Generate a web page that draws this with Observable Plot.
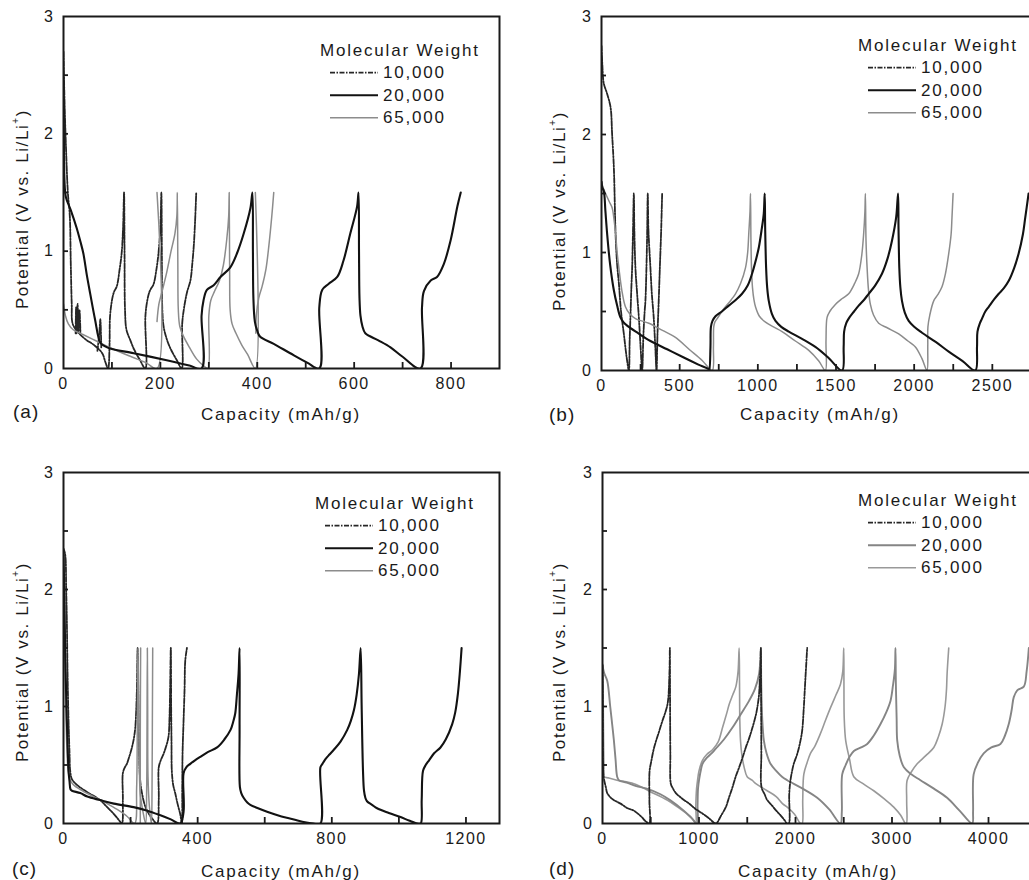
<!DOCTYPE html>
<html><head><meta charset="utf-8">
<script src="https://cdn.jsdelivr.net/npm/d3@7"></script>
<script src="https://cdn.jsdelivr.net/npm/@observablehq/plot@0.6"></script>
<style>
html,body{margin:0;padding:0;background:#fff;overflow:hidden;}
#root{position:relative;width:1029px;height:880px;overflow:hidden;background:#fff;}
.pan{position:absolute;}
.pan svg{max-width:none !important;}
#ov{position:absolute;left:0;top:0;pointer-events:none;}
</style></head><body><div id="root"></div><script>
// ---------- text ----------
const panelLetters = ["(a)", "(b)", "(c)", "(d)"];
const xTitle = "Capacity (mAh/g)";
const yTitleMain = "Potential (V vs. Li/Li";
const legendTitle = "Molecular Weight";
const legendLabels = ["10,000", "20,000", "65,000"];

// ---------- tick values ----------
const yTicks = [0, 1, 2, 3];
const yMinor = [0.5, 1, 1.5, 2, 2.5];
const aTicks = [0, 200, 400, 600, 800];
const aMinor = [100, 200, 300, 400, 500, 600, 700, 800];
const bTicks = [0, 500, 1000, 1500, 2000, 2500];
const bMinor = [250, 500, 750, 1000, 1250, 1500, 1750, 2000, 2250, 2500, 2750];
const cTicks = [0, 400, 800, 1200];
const cMinor = [200, 400, 600, 800, 1000, 1200];
const dTicks = [0, 1000, 2000, 3000, 4000];
const dMinor = [500, 1000, 1500, 2000, 2500, 3000, 3500, 4000, 4500];

// ---------- data: [capacity mAh/g, potential V] ----------
// panel (a)
const a10 = [
 [[0,2.7],[2,2.3],[5,1.9],[9,1.5],[13,1.3],[15,0.9],[17,0.55],[19,0.38],[30,0.31],[45,0.25],[63,0.2],[80,0.13],[86,0.06],[92,0],
  [95,0.2],[96,0.44],[100,0.58],[104,0.65],[110,0.7],[116,0.85],[120,0.98],[123,1.2],[125,1.5],
  [126,1.0],[127,0.5],[130,0.33],[138,0.24],[146,0.16],[158,0.07],[169,0],
  [169,0.44],[173,0.58],[178,0.66],[186,0.72],[192,0.85],[196,0.98],[200,1.2],[202,1.5],
  [203,1.0],[204,0.5],[207,0.35],[214,0.24],[222,0.16],[234,0.07],[244,0],
  [245,0.38],[249,0.52],[255,0.65],[262,0.75],[266,0.9],[269,1.05],[272,1.29],[274,1.5]],
 [[25,0.3],[26,0.52],[27,0.3],[29,0.55],[31,0.32],[33,0.5],[35,0.3]],
 [[70,0.15],[74,0.3],[76,0.42],[78,0.18]]
];
const a20 = [
 [[0,2.3],[1,1.9],[2,1.6],[5,1.46],[15,1.35],[27,1.2],[35,1.08],[41,0.98],[48,0.8],[55,0.64],[65,0.42],[76,0.22],[85,0.19],[96,0.17],[145,0.13],[213,0.07],[260,0.025],[285,0],
  [285,0.45],[289,0.58],[296,0.67],[310,0.71],[324,0.78],[344,0.86],[358,0.98],[372,1.15],[386,1.37],[390,1.5],
  [391,1.0],[392,0.6],[395,0.4],[400,0.32],[406,0.27],[434,0.21],[468,0.13],[503,0.05],[528,0],
  [528,0.52],[534,0.67],[547,0.72],[565,0.78],[578,0.92],[592,1.15],[606,1.38],[609,1.5],
  [610,1.0],[611,0.6],[613,0.45],[617,0.36],[623,0.3],[650,0.24],[675,0.18],[700,0.1],[737,0],
  [740,0.52],[744,0.66],[758,0.75],[771,0.78],[785,0.89],[799,1.09],[813,1.38],[820,1.5]]
];
const a65 = [
 [[0,0.55],[4,0.45],[10,0.38],[20,0.33],[40,0.29],[70,0.23],[100,0.17],[140,0.1],[170,0.05],[193,0],[193,1.5]],
 [[193,0.4],[197,0.55],[203,0.65],[212,0.8],[222,1.0],[230,1.15],[234,1.3],[235,1.5],
  [236,0.9],[237,0.5],[240,0.36],[247,0.28],[260,0.18],[275,0.08],[290,0.02],[298,0],
  [300,0.45],[304,0.58],[312,0.66],[322,0.75],[330,0.88],[337,1.1],[341,1.3],[342,1.5],
  [343,0.8],[344,0.5],[348,0.38],[356,0.3],[368,0.2],[380,0.12],[396,0],[396,1.5]],
 [[397,0.3],[398,0.45],[403,0.6],[410,0.7],[418,0.85],[424,1.05],[430,1.3],[434,1.5]]
];
// panel (b)
const b10 = [
 [[0,2.75],[5,2.6],[15,2.43],[35,2.35],[58,2.23],[68,2.0],[79,1.72],[90,1.16],[100,0.9],[111,0.74],[125,0.5],[143,0.31],[160,0.12],[175,0],
  [180,0.25],[185,0.45],[191,0.7],[196,0.87],[201,1.15],[207,1.5],
  [210,1.2],[217,0.87],[228,0.65],[239,0.45],[250,0.2],[260,0],
  [268,0.3],[276,0.5],[281,0.59],[288,0.9],[292,1.16],[296,1.5],
  [300,1.2],[313,0.87],[322,0.65],[334,0.45],[344,0.2],[352,0],
  [358,0.3],[366,0.59],[374,0.9],[381,1.16],[388,1.5]]
];
const b20 = [
 [[0,1.6],[5,1.55],[15,1.52],[25,1.35],[36,1.16],[55,0.9],[79,0.68],[100,0.55],[121,0.45],[140,0.41],[164,0.38],[230,0.32],[313,0.25],[420,0.18],[526,0.11],[620,0.05],[686,0.01],[690,0],
  [697,0.2],[700,0.37],[710,0.42],[729,0.46],[770,0.5],[814,0.55],[860,0.6],[899,0.65],[935,0.72],[963,0.82],[990,0.95],[1006,1.04],[1025,1.2],[1038,1.33],[1044,1.5],
  [1047,1.2],[1053,0.87],[1060,0.7],[1070,0.59],[1090,0.48],[1113,0.42],[1150,0.37],[1198,0.33],[1280,0.27],[1368,0.2],[1450,0.11],[1539,0],
  [1549,0.2],[1552,0.33],[1565,0.4],[1581,0.44],[1615,0.5],[1645,0.55],[1680,0.6],[1709,0.65],[1750,0.72],[1794,0.82],[1830,0.95],[1858,1.1],[1885,1.3],[1897,1.5],
  [1900,1.2],[1905,0.87],[1912,0.7],[1922,0.59],[1940,0.49],[1965,0.42],[2000,0.37],[2050,0.32],[2140,0.24],[2221,0.16],[2310,0.08],[2391,0],
  [2402,0.2],[2405,0.33],[2420,0.4],[2434,0.44],[2455,0.5],[2477,0.54],[2510,0.6],[2541,0.65],[2575,0.7],[2605,0.76],[2640,0.87],[2668,0.99],[2695,1.15],[2711,1.3],[2732,1.5]]
];
const b65 = [
 [[0,1.6],[10,1.55],[26,1.5],[50,1.43],[68,1.38],[80,1.28],[90,1.16],[100,1.0],[111,0.87],[130,0.68],[153,0.54],[180,0.48],[217,0.44],[303,0.4],[390,0.34],[473,0.28],[560,0.18],[644,0.085],[708,0],
  [716,0.2],[718,0.37],[725,0.41],[740,0.44],[770,0.5],[793,0.54],[830,0.6],[857,0.65],[890,0.74],[921,0.87],[935,1.0],[942,1.16],[950,1.35],[953,1.5],
  [956,1.1],[960,0.85],[966,0.7],[975,0.6],[985,0.54],[1010,0.46],[1049,0.41],[1100,0.37],[1155,0.33],[1240,0.25],[1326,0.17],[1390,0.08],[1432,0],
  [1436,0.25],[1443,0.45],[1460,0.5],[1496,0.56],[1540,0.61],[1581,0.65],[1620,0.74],[1645,0.82],[1665,0.98],[1677,1.16],[1685,1.35],[1688,1.5],
  [1692,1.1],[1699,0.87],[1708,0.68],[1720,0.56],[1740,0.47],[1773,0.4],[1830,0.36],[1901,0.31],[1960,0.25],[2008,0.2],[2050,0.1],[2082,0],
  [2087,0.2],[2088,0.37],[2100,0.47],[2125,0.59],[2150,0.64],[2178,0.71],[2200,0.82],[2221,0.99],[2236,1.15],[2242,1.3],[2249,1.5]]
];
// panel (c)
const c10 = [
 [[0,2.35],[5,2.3],[8,2.0],[10,1.73],[12,1.3],[15,0.88],[18,0.6],[20,0.45],[25,0.38],[40,0.33],[70,0.27],[109,0.2],[130,0.14],[149,0.085],[165,0.03],[174,0],
  [177,0.2],[177,0.43],[183,0.48],[189,0.51],[197,0.58],[204,0.65],[210,0.73],[214,0.82],[217,0.98],[219,1.17],[221,1.5],
  [223,1.1],[225,0.7],[227,0.45],[230,0.33],[234,0.26],[241,0.17],[249,0.11],[265,0.04],[279,0],
  [284,0.2],[284,0.48],[290,0.54],[299,0.6],[306,0.66],[313,0.74],[316,0.9],[318,1.17],[320,1.5],
  [321,1.0],[322,0.7],[323,0.45],[327,0.33],[333,0.26],[340,0.17],[348,0.08],[353,0],
  [354,0.3],[355,0.6],[358,0.88],[361,1.15],[363,1.39],[368,1.5]]
];
const c20 = [
 [[0,2.3],[3,1.9],[5,1.45],[8,1.1],[10,0.88],[13,0.6],[15,0.45],[18,0.36],[21,0.29],[25,0.28],[50,0.26],[71,0.23],[109,0.2],[150,0.17],[209,0.14],[250,0.11],[289,0.07],[320,0.035],[348,0],
  [358,0.1],[358,0.43],[366,0.48],[378,0.51],[392,0.54],[408,0.57],[430,0.61],[458,0.65],[480,0.72],[498,0.8],[506,0.87],[512,0.94],[517,1.1],[522,1.28],[525,1.5],
  [525,0.8],[526,0.31],[530,0.26],[537,0.22],[548,0.18],[557,0.16],[580,0.13],[607,0.1],[650,0.06],[687,0.035],[720,0.01],[745,0],
  [766,0],[766,0.48],[772,0.51],[781,0.55],[793,0.59],[806,0.63],[826,0.7],[846,0.8],[857,0.88],[866,0.97],[874,1.1],[881,1.28],[886,1.5],
  [889,1.0],[893,0.45],[896,0.28],[900,0.22],[905,0.19],[920,0.16],[935,0.13],[970,0.09],[1005,0.055],[1030,0.025],[1055,0],
  [1065,0],[1068,0.2],[1072,0.45],[1080,0.5],[1090,0.54],[1105,0.6],[1124,0.65],[1140,0.72],[1159,0.85],[1168,0.95],[1176,1.11],[1182,1.3],[1187,1.5]]
];
const c65 = [
 [[0,2.0],[3,1.6],[6,1.1],[10,0.65],[14,0.45],[20,0.37],[30,0.33],[50,0.29],[90,0.23],[130,0.17],[160,0.12],[190,0.06],[212,0],
  [218,0.3],[220,0.8],[221,1.2],[222,1.5],[224,1.1],[226,0.5],[229,0.25],[237,0.1],[245,0],
  [248,0.3],[249,0.8],[250,1.5],[251,1.0],[252,0.4],[256,0.15],[262,0],
  [264,0.3],[265,0.9],[266,1.5]],
 [[229,0],[229,0.8],[230,1.5]]
];
// panel (d)
const d10 = [
 [[0,1.35],[3,1.0],[5,0.6],[8,0.45],[15,0.38],[35,0.31],[49,0.26],[100,0.21],[187,0.17],[260,0.13],[325,0.11],[400,0.06],[446,0.02],[484,0],
  [486,0.2],[488,0.45],[505,0.53],[535,0.65],[580,0.77],[622,0.88],[655,0.96],[674,1.02],[686,1.12],[691,1.22],[696,1.35],[698,1.5],
  [700,1.1],[703,0.6],[708,0.34],[730,0.3],[760,0.26],[830,0.21],[898,0.17],[970,0.12],[1036,0.085],[1110,0.04],[1174,0],
  [1230,0.07],[1278,0.14],[1310,0.22],[1347,0.31],[1380,0.4],[1416,0.48],[1450,0.56],[1485,0.65],[1520,0.73],[1554,0.82],[1590,0.93],[1606,1.0],[1622,1.1],[1630,1.22],[1638,1.35],[1641,1.5],
  [1644,1.0],[1646,0.6],[1648,0.31],[1680,0.25],[1707,0.2],[1760,0.15],[1800,0.11],[1845,0.07],[1880,0.035],[1914,0],
  [1931,0],[1935,0.25],[1948,0.37],[1965,0.45],[1982,0.51],[2020,0.6],[2052,0.71],[2070,0.8],[2086,0.99],[2100,1.2],[2121,1.5]]
];
const d20 = [
 [[0,1.36],[5,1.33],[20,1.28],[49,1.22],[80,1.0],[100,0.85],[118,0.71],[135,0.55],[152,0.4],[170,0.37],[250,0.35],[350,0.32],[450,0.3],[601,0.25],[700,0.2],[842,0.11],[920,0.05],[981,0],
  [985,0.15],[990,0.3],[1002,0.38],[1020,0.46],[1036,0.51],[1080,0.56],[1130,0.6],[1174,0.64],[1260,0.72],[1347,0.82],[1430,0.93],[1520,1.05],[1580,1.15],[1623,1.28],[1635,1.4],[1641,1.5],
  [1645,1.2],[1655,0.9],[1672,0.71],[1700,0.6],[1741,0.51],[1800,0.45],[1860,0.4],[1914,0.37],[2070,0.3],[2225,0.22],[2350,0.12],[2466,0],
  [2480,0.1],[2484,0.42],[2520,0.5],[2560,0.57],[2605,0.62],[2680,0.65],[2743,0.68],[2810,0.75],[2881,0.85],[2940,0.95],[2985,1.05],[3010,1.18],[3030,1.32],[3036,1.5],
  [3040,1.2],[3048,0.9],[3054,0.71],[3080,0.58],[3123,0.48],[3200,0.42],[3295,0.37],[3430,0.3],[3571,0.22],[3700,0.11],[3831,0],
  [3840,0.1],[3846,0.42],[3890,0.52],[3950,0.6],[4030,0.65],[4124,0.68],[4170,0.75],[4210,0.85],[4240,0.97],[4262,1.08],[4300,1.14],[4366,1.17],[4395,1.3],[4418,1.5]]
];
const d65 = [
 [[0,1.36],[5,1.2],[10,0.8],[15,0.5],[20,0.4],[60,0.39],[150,0.37],[325,0.34],[500,0.27],[670,0.2],[780,0.14],[877,0.08],[940,0.03],[967,0],
  [967,0.15],[975,0.3],[985,0.37],[1000,0.45],[1036,0.54],[1080,0.59],[1140,0.63],[1200,0.7],[1244,0.82],[1290,0.95],[1313,1.02],[1350,1.1],[1382,1.17],[1405,1.3],[1416,1.5],
  [1420,1.2],[1423,0.88],[1430,0.71],[1445,0.58],[1468,0.48],[1499,0.4],[1550,0.37],[1589,0.34],[1706,0.28],[1800,0.23],[1865,0.17],[1914,0.14],[1990,0.08],[2052,0],
  [2069,0],[2075,0.2],[2086,0.42],[2120,0.52],[2155,0.6],[2200,0.66],[2259,0.77],[2310,0.88],[2363,0.99],[2420,1.1],[2466,1.19],[2490,1.3],[2500,1.5],
  [2502,1.2],[2505,0.9],[2520,0.71],[2560,0.55],[2604,0.4],[2700,0.34],[2811,0.28],[2920,0.21],[3018,0.14],[3090,0.07],[3140,0],
  [3150,0],[3152,0.2],[3157,0.37],[3200,0.44],[3261,0.51],[3350,0.58],[3433,0.65],[3480,0.74],[3520,0.85],[3550,1.0],[3565,1.15],[3571,1.28],[3588,1.5]]
];

// ---------- styles ----------
const FONT = '"Liberation Sans", Arial, Helvetica, sans-serif';
const INK = "#1a1a1a";
const S10 = {stroke: "#262626", width: 1.8, dash: "5,1.5,1.5,1.5"};
const S20 = {stroke: "#121212", width: 2.1, dash: null};
const S65 = {stroke: "#8c8c8c", width: 1.5, dash: null};
const SD20 = {stroke: "#858585", width: 1.9, dash: null};
const SD65 = {stroke: "#999999", width: 1.6, dash: null};

const panels = [
  {left: 0, top: 0, width: 515, height: 430, mL: 63, mR: 16, mT: 16, mB: 62, domain: [0, 900], ticks: aTicks, minor: aMinor,
   series: [[a10, S10], [a65, S65], [a20, S20]], legend: [S10, S20, S65]},
  {left: 515, top: 0, width: 600, height: 430, mL: 86, mR: 45, mT: 16, mB: 60, domain: [0, 3000], ticks: bTicks, minor: bMinor,
   series: [[b10, S10], [b65, S65], [b20, S20]], legend: [S10, S20, S65]},
  {left: 0, top: 440, width: 515, height: 440, mL: 63, mR: 16, mT: 32, mB: 57, domain: [0, 1300], ticks: cTicks, minor: cMinor,
   series: [[c10, S10], [c65, S65], [c20, S20]], legend: [S10, S20, S65]},
  {left: 515, top: 440, width: 620, height: 440, mL: 87, mR: 50.5, mT: 32, mB: 57, domain: [0, 5000], ticks: dTicks, minor: dMinor,
   series: [[d65, SD65], [d20, SD20], [d10, S10]], legend: [S10, SD20, SD65]}
];

const root = document.getElementById("root");

panels.forEach(p => {
  const plotW = p.width - p.mL - p.mR;
  const plotH = p.height - p.mT - p.mB;
  const marks = [];
  p.series.forEach(([segs, st]) => {
    const rows = [];
    segs.forEach((seg, i) => seg.forEach(([x, y]) => rows.push({x, y, seg: i})));
    marks.push(Plot.line(rows, {x: "x", y: "y", z: "seg", stroke: st.stroke, strokeWidth: st.width,
      strokeDasharray: st.dash || undefined, curve: "catmull-rom", clip: true, strokeLinejoin: "round"}));
  });
  marks.push(Plot.tickX(p.minor, {x: d => d, insetTop: plotH - 6, stroke: INK, strokeWidth: 1.8}));
  marks.push(Plot.tickY(yMinor, {y: d => d, insetRight: plotW - 5, stroke: INK, strokeWidth: 1.8}));
  marks.push(Plot.text(p.ticks, {x: d => d, frameAnchor: "bottom", dy: 15, text: d => String(d),
    fontSize: 16, fill: INK, lineAnchor: "middle"}));
  marks.push(Plot.text(yTicks, {y: d => d, frameAnchor: "left", dx: -9, textAnchor: "end", text: d => String(d),
    fontSize: 16, fill: INK, lineAnchor: "middle"}));
  marks.push(Plot.frame({stroke: INK, strokeWidth: 2}));
  const chart = Plot.plot({
    width: p.width, height: p.height,
    marginLeft: p.mL, marginRight: p.mR, marginTop: p.mT, marginBottom: p.mB,
    x: {domain: p.domain, label: null, axis: null},
    y: {domain: [0, 3], label: null, axis: null},
    style: {fontFamily: FONT, fontSize: "16px", letterSpacing: "1.5px", color: INK, background: "transparent", overflow: "visible", maxWidth: "none"},
    marks
  });
  const div = document.createElement("div");
  div.className = "pan";
  div.style.left = p.left + "px";
  div.style.top = p.top + "px";
  div.style.width = p.width + "px";
  div.style.height = p.height + "px";
  div.appendChild(chart);
  root.appendChild(div);
});

// ---------- overlay: titles, panel letters, legends ----------
const ov = d3.select(root).append("svg").attr("id", "ov").attr("width", 1029).attr("height", 880)
  .style("font-family", FONT).style("fill", INK);

const letterPos = [[13, 411], [549, 414], [12, 868], [549, 868]];
const xTitlePos = [[281, 414], [820, 414], [281, 871], [818, 871]];
const yTitlePos = [[22, 209], [559, 211], [22, 662], [559, 662]];
const legendPos = [[320, 50], [858, 45], [315, 503], [858, 500]];
const legendRowGap = 22.6;

panels.forEach((p, i) => {
  ov.append("text").attr("x", letterPos[i][0]).attr("y", letterPos[i][1]).attr("dominant-baseline", "central")
    .style("font-size", "19px").style("letter-spacing", "1px").text(panelLetters[i]);
  ov.append("text").attr("x", xTitlePos[i][0]).attr("y", xTitlePos[i][1]).attr("text-anchor", "middle")
    .attr("dominant-baseline", "central").style("font-size", "17px").style("letter-spacing", "1.8px").text(xTitle);
  const yt = ov.append("text").attr("transform", `translate(${yTitlePos[i][0]},${yTitlePos[i][1]}) rotate(-90)`)
    .attr("text-anchor", "middle").attr("dominant-baseline", "central").style("font-size", "17px").style("letter-spacing", "1.6px");
  yt.append("tspan").text(yTitleMain);
  yt.append("tspan").attr("dy", -7).style("font-size", "10px").text("+");
  yt.append("tspan").attr("dy", 7).text(")");

  const [lx, ly] = legendPos[i];
  ov.append("text").attr("x", lx).attr("y", ly).attr("dominant-baseline", "central")
    .style("font-size", "17px").style("letter-spacing", "1.8px").text(legendTitle);
  p.legend.forEach((st, k) => {
    const yy = ly + legendRowGap * (k + 1);
    ov.append("line").attr("x1", lx + 10).attr("x2", lx + 58).attr("y1", yy).attr("y2", yy)
      .attr("stroke", st.stroke).attr("stroke-width", st.width).attr("stroke-dasharray", st.dash);
    ov.append("text").attr("x", lx + 63).attr("y", yy).attr("dominant-baseline", "central")
      .style("font-size", "17px").style("letter-spacing", "1.8px").text(legendLabels[k]);
  });
});
</script></body></html>
